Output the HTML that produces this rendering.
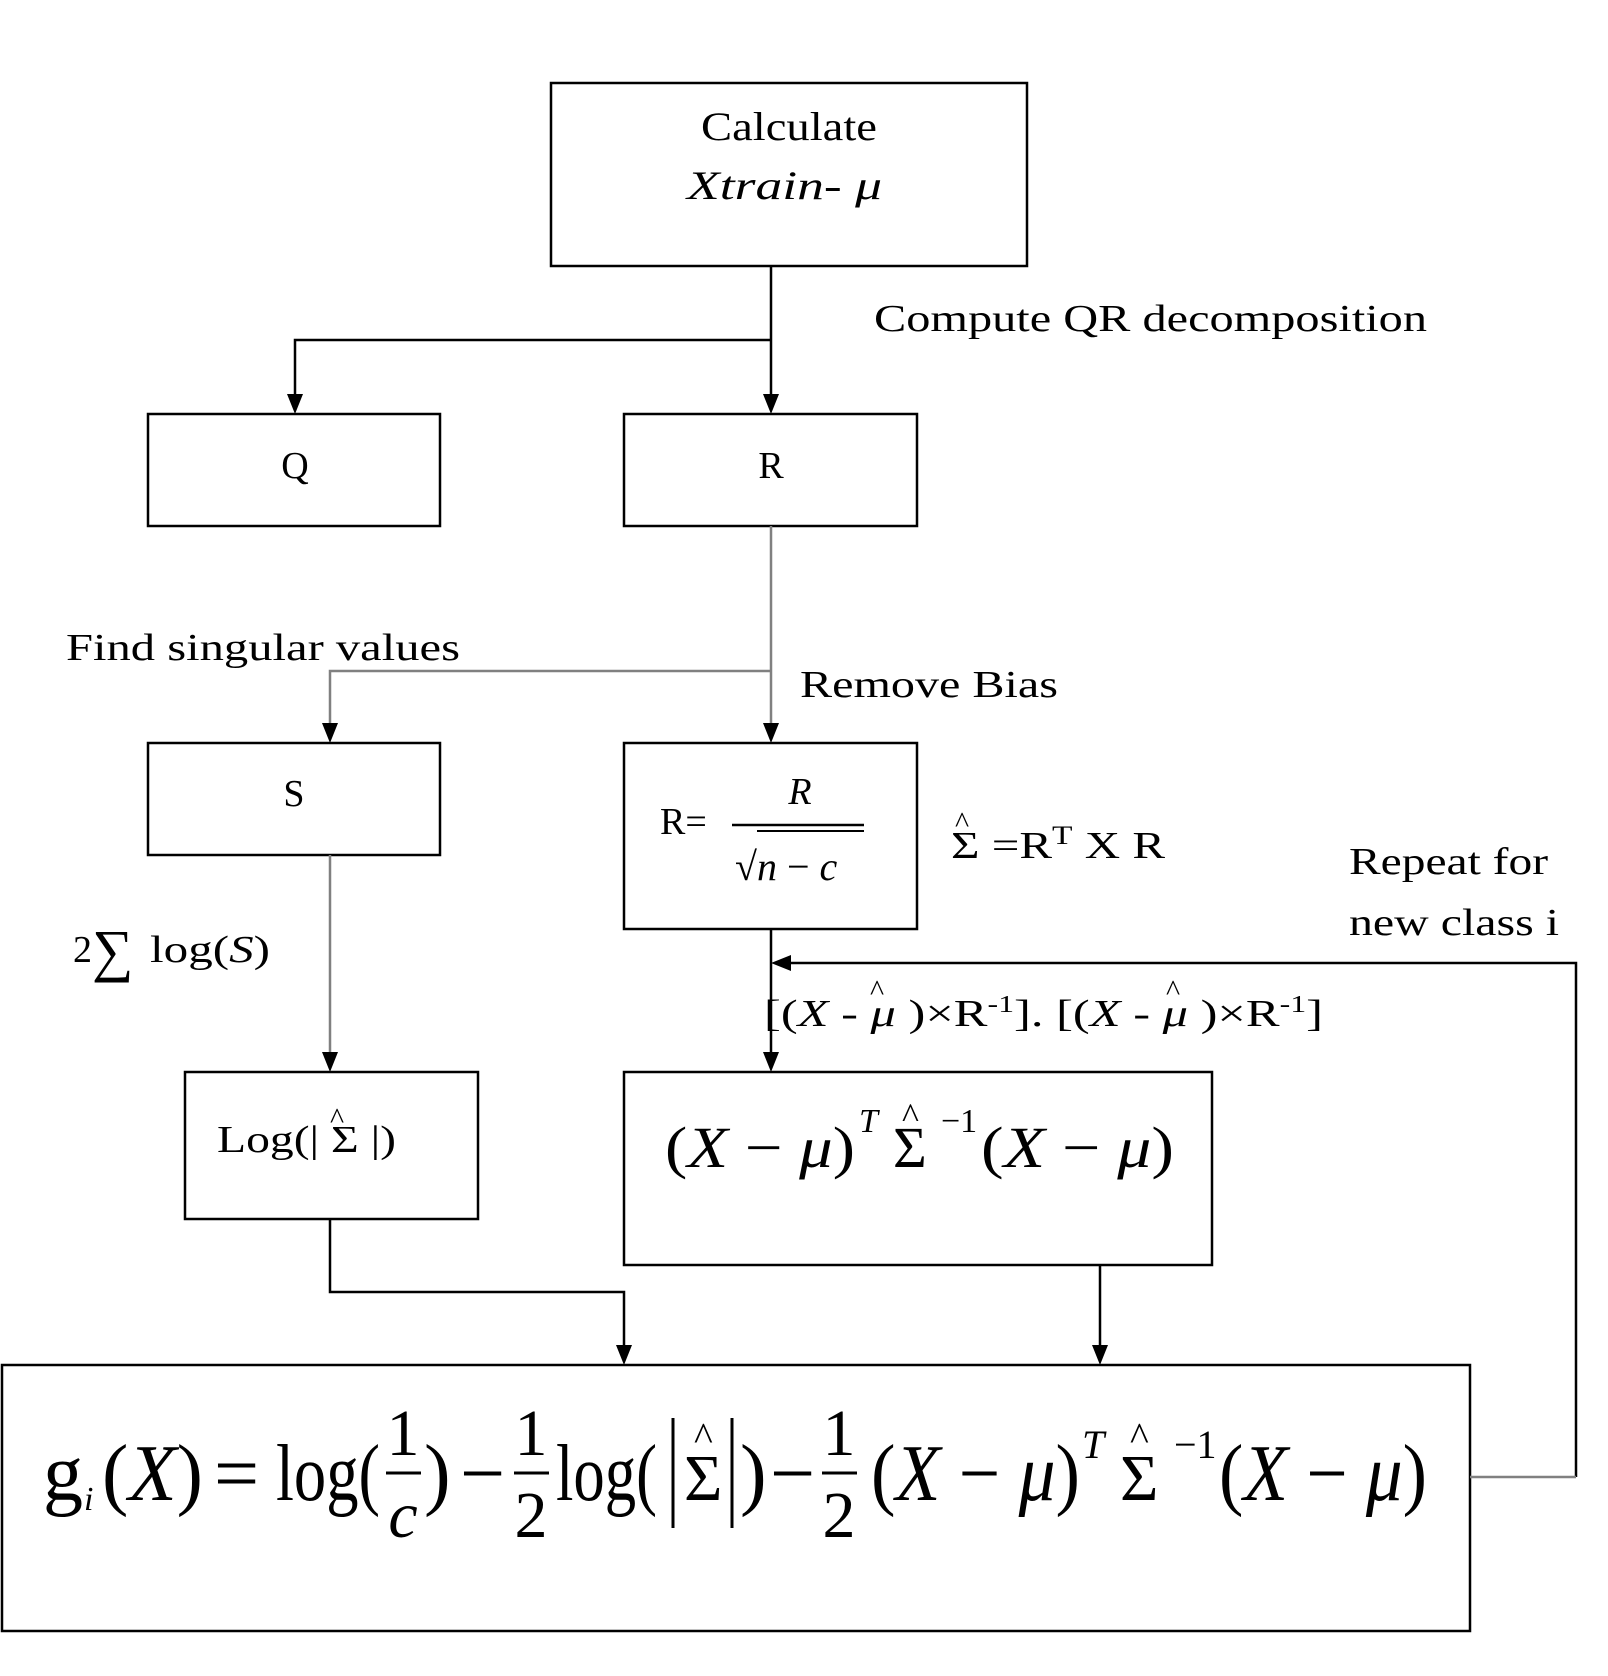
<!DOCTYPE html>
<html><head><meta charset="utf-8"><style>
html,body{margin:0;padding:0;background:#fff;}
svg{display:block;}
text{font-family:"Liberation Serif",serif;fill:#000;}
</style></head><body>
<svg width="1608" height="1676" viewBox="0 0 1608 1676" xmlns="http://www.w3.org/2000/svg">
<g fill="none" stroke="#000" stroke-width="2.5">
<rect x="551" y="83" width="476" height="183"/>
<rect x="148" y="414" width="292" height="112"/>
<rect x="624" y="414" width="293" height="112"/>
<rect x="148" y="743" width="292" height="112"/>
<rect x="624" y="743" width="293" height="186"/>
<rect x="185" y="1072" width="293" height="147"/>
<rect x="624" y="1072" width="588" height="193"/>
<rect x="2" y="1365" width="1468" height="266"/>
<polyline points="771,266 771,400"/>
<polyline points="771,340 295,340 295,400"/>
<polyline points="771,929 771,1058"/>
<polyline points="330,1219 330,1292 624,1292 624,1351"/>
<polyline points="1100,1265 1100,1351"/>
<polyline points="1576,1477 1576,963 785,963"/>
</g>
<g fill="none" stroke="#808080" stroke-width="2.5">
<polyline points="771,526 771,729"/>
<polyline points="771,671 330,671 330,729"/>
<polyline points="330,855 330,1058"/>
<polyline points="1470,1477 1576,1477"/>
</g>
<g fill="#000">
<polygon points="287,394 303,394 295,414"/>
<polygon points="763,394 779,394 771,414"/>
<polygon points="322,723 338,723 330,743"/>
<polygon points="763,723 779,723 771,743"/>
<polygon points="322,1052 338,1052 330,1072"/>
<polygon points="763,1052 779,1052 771,1072"/>
<polygon points="616,1345 632,1345 624,1365"/>
<polygon points="1092,1345 1108,1345 1100,1365"/>
<polygon points="771,963 791,955 791,971"/>
</g>
<g font-size="38">
<text x="701" y="140" font-size="40" textLength="176" lengthAdjust="spacingAndGlyphs">Calculate</text>
<text x="687" y="199" font-size="40" font-style="italic" textLength="195" lengthAdjust="spacingAndGlyphs">Xtrain-  μ</text>
<text x="874" y="331" textLength="553" lengthAdjust="spacingAndGlyphs">Compute QR decomposition</text>
<text x="295" y="478" text-anchor="middle">Q</text>
<text x="771" y="478" text-anchor="middle">R</text>
<text x="66" y="660" textLength="394" lengthAdjust="spacingAndGlyphs">Find singular values</text>
<text x="800" y="697" textLength="258" lengthAdjust="spacingAndGlyphs">Remove Bias</text>
<text x="294" y="806" text-anchor="middle">S</text>
<text x="660" y="834">R=</text>
<text x="800" y="804" font-style="italic" text-anchor="middle">R</text>
<text x="735" y="880" font-size="40">√<tspan font-style="italic">n</tspan> − <tspan font-style="italic">c</tspan></text>
<text x="951" y="858" textLength="214" lengthAdjust="spacingAndGlyphs">Σ =R<tspan dy="-14" font-size="26">T</tspan><tspan dy="14"> X R</tspan></text>
<text x="955" y="832" font-size="30">^</text>
<text x="1349" y="874" textLength="199" lengthAdjust="spacingAndGlyphs">Repeat for</text>
<text x="1349" y="935" textLength="210" lengthAdjust="spacingAndGlyphs">new class i</text>
<text x="73" y="962">2</text>
<text x="92" y="970" font-size="58">∑</text>
<text x="150" y="962" textLength="120" lengthAdjust="spacingAndGlyphs">log(<tspan font-style="italic">S</tspan>)</text>
<text x="764" y="1026" textLength="559" lengthAdjust="spacingAndGlyphs">[(<tspan font-style="italic">X</tspan> - <tspan font-style="italic">μ</tspan> )×R<tspan dy="-14" font-size="24">-1</tspan><tspan dy="14">]. [(</tspan><tspan font-style="italic">X</tspan> - <tspan font-style="italic">μ</tspan> )×R<tspan dy="-14" font-size="24">-1</tspan><tspan dy="14">]</tspan></text>
<text x="217" y="1152" textLength="179" lengthAdjust="spacingAndGlyphs">Log(| Σ |)</text>
<text x="330" y="1128" font-size="30">^</text>
</g>
<line x1="732" y1="825" x2="864" y2="825" stroke="#000" stroke-width="2.5"/>
<line x1="757" y1="831" x2="864" y2="831" stroke="#000" stroke-width="2"/>
<g font-size="58">
<text x="665" y="1167" textLength="190" lengthAdjust="spacingAndGlyphs">(<tspan font-style="italic">X</tspan> − <tspan font-style="italic">μ</tspan>)</text>
<text x="859" y="1132" font-size="34" font-style="italic">T</text>
<text x="893" y="1167">Σ</text>
<text x="902" y="1128" font-size="36">^</text>
<text x="941" y="1132" font-size="34">−1</text>
<text x="981" y="1167" textLength="193" lengthAdjust="spacingAndGlyphs">(<tspan font-style="italic">X</tspan> − <tspan font-style="italic">μ</tspan>)</text>
</g>
<g font-size="80">
<text x="43" y="1500">g</text>
<text x="84" y="1510" font-size="34" font-style="italic">i</text>
<text x="102" y="1500" textLength="101" lengthAdjust="spacingAndGlyphs">(<tspan font-style="italic">X</tspan>)</text>
<text x="214" y="1500">=</text>
<text x="276" y="1500" textLength="104" lengthAdjust="spacingAndGlyphs">log(</text>
<text x="403" y="1455" text-anchor="middle" font-size="66">1</text>
<text x="403" y="1537" text-anchor="middle" font-size="66" font-style="italic">c</text>
<text x="424" y="1500">)</text>
<text x="460" y="1500">−</text>
<text x="531" y="1455" text-anchor="middle" font-size="66">1</text>
<text x="531" y="1537" text-anchor="middle" font-size="66">2</text>
<text x="556" y="1500" textLength="101" lengthAdjust="spacingAndGlyphs">log(</text>
<text x="684" y="1500" font-size="66">Σ</text>
<text x="694" y="1450" font-size="40">^</text>
<text x="740" y="1500">)</text>
<text x="770" y="1500">−</text>
<text x="839" y="1455" text-anchor="middle" font-size="66">1</text>
<text x="839" y="1537" text-anchor="middle" font-size="66">2</text>
<text x="871" y="1500" textLength="209" lengthAdjust="spacingAndGlyphs">(<tspan font-style="italic">X</tspan> − <tspan font-style="italic">μ</tspan>)</text>
<text x="1082" y="1458" font-size="40" font-style="italic">T</text>
<text x="1120" y="1500" font-size="66">Σ</text>
<text x="1130" y="1450" font-size="40">^</text>
<text x="1174" y="1458" font-size="40">−1</text>
<text x="1219" y="1500" textLength="208" lengthAdjust="spacingAndGlyphs">(<tspan font-style="italic">X</tspan> − <tspan font-style="italic">μ</tspan>)</text>
</g>
<g font-size="30"><text x="870" y="1000">^</text><text x="1166" y="1000">^</text></g>
<g stroke="#000" stroke-width="3">
<line x1="386" y1="1473" x2="421" y2="1473"/>
<line x1="514" y1="1473" x2="549" y2="1473"/>
<line x1="822" y1="1473" x2="857" y2="1473"/>
<line x1="673" y1="1418" x2="673" y2="1528"/>
<line x1="732" y1="1418" x2="732" y2="1528"/>
</g>
</svg>
</body></html>
